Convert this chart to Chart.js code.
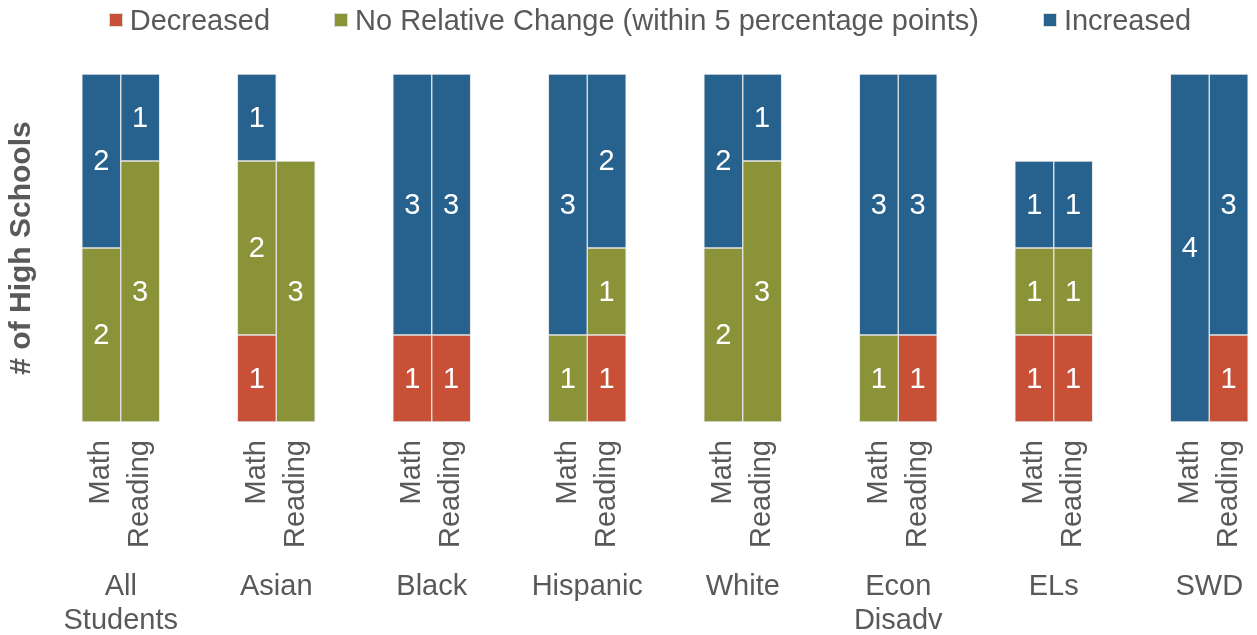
<!DOCTYPE html>
<html>
<head>
<meta charset="utf-8">
<script src="https://cdn.jsdelivr.net/npm/chart.js@4.4.1/dist/chart.umd.min.js"></script>
<style>
    html, body { margin: 0; padding: 0; background: #fff; overflow: hidden; }
    #wrap { position: relative; width: 1287px; height: 635px; }
    #chart { display: block; }
    #legend {
        position: absolute; top: 4px; left: 0; width: 1287px; padding-left: 13px; box-sizing: border-box;
        display: flex; justify-content: center; gap: 64px;
        font-family: "Liberation Sans", Arial, sans-serif; font-size: 29px; color: #595959;
    }
    .legend-item { display: flex; align-items: center; line-height: 32px; white-space: nowrap; }
    .legend-box { width: 12px; height: 12px; border: 1px solid #dcdcdc; margin-right: 7px; }
</style>
</head>
<body>
<div id="wrap">
    <div id="legend"></div>
    <canvas id="chart" width="1287" height="635"></canvas>
</div>
<script>
const groups = ['All Students', 'Asian', 'Black', 'Hispanic', 'White', 'Econ Disadv', 'ELs', 'SWD'];
const subjects = ['Math', 'Reading'];
const seriesNames = ['Decreased', 'No Relative Change (within 5 percentage points)', 'Increased'];
const seriesColors = ['#C75037', '#8A9338', '#27628F'];

// number of high schools per group, Math
const mathDecreased = [0, 1, 1, 0, 0, 0, 1, 0];
const mathNoChange  = [2, 2, 0, 1, 2, 1, 1, 0];
const mathIncreased = [2, 1, 3, 3, 2, 3, 1, 4];
// Reading
const readDecreased = [0, 0, 1, 1, 0, 1, 1, 1];
const readNoChange  = [3, 3, 0, 1, 3, 0, 1, 0];
const readIncreased = [1, 0, 3, 2, 1, 3, 1, 3];

const textColor = '#595959';
const fontFamily = '"Liberation Sans", Arial, sans-serif';

// each group takes 4 slots on the axis: gap, Math, Reading, gap
const slotLabels = [];
groups.forEach(() => slotLabels.push('', subjects[0], subjects[1], ''));

function toSlots(math, reading) {
    const out = [];
    for(let i = 0; i < groups.length; i++) {
        out.push(null, math[i] || null, reading[i] || null, null);
    }
    return out;
}

const slotData = [
    toSlots(mathDecreased, readDecreased),
    toSlots(mathNoChange, readNoChange),
    toSlots(mathIncreased, readIncreased)
];

// html legend
const legendNode = document.getElementById('legend');
seriesNames.forEach((name, i) => {
    const item = document.createElement('div');
    item.className = 'legend-item';
    item.innerHTML = `<span class="legend-box" style="background:${seriesColors[i]}"></span><span>${name}</span>`;
    legendNode.appendChild(item);
});

// write the value in the middle of every segment
const segmentLabels = {
    id: 'segmentLabels',
    afterDatasetsDraw(chart) {
        const ctx = chart.ctx;
        ctx.save();
        ctx.fillStyle = '#ffffff';
        ctx.font = '29px ' + fontFamily;
        ctx.textAlign = 'center';
        ctx.textBaseline = 'middle';
        chart.data.datasets.forEach((ds, di) => {
            const meta = chart.getDatasetMeta(di);
            meta.data.forEach((bar, i) => {
                const v = ds.data[i];
                if(!v) return;
                ctx.fillText(String(v), bar.x, (bar.y + bar.base) / 2 + 1);
            });
        });
        ctx.restore();
    }
};

// fixed axis heights, and no extra side padding from the rotated labels
function fixHeight(h) {
    return function(scale) {
        scale.height = h;
        scale.paddingLeft = 0;
        scale.paddingRight = 0;
    };
}

new Chart(document.getElementById('chart'), {
    type: 'bar',
    data: {
        labels: slotLabels,
        datasets: seriesNames.map((name, i) => ({
            label: name,
            data: slotData[i],
            backgroundColor: seriesColors[i],
            borderColor: '#e4e4e4',
            borderWidth: 1,
            borderSkipped: false,
            barPercentage: 1,
            categoryPercentage: 1
        }))
    },
    options: {
        responsive: false,
        animation: false,
        layout: { padding: { top: 74, right: 0, bottom: 0, left: 0 } },
        plugins: {
            legend: { display: false },
            tooltip: { enabled: false }
        },
        scales: {
            x: {
                stacked: true,
                weight: 0,
                grid: { display: false, drawTicks: false },
                border: { display: false },
                ticks: {
                    autoSkip: false,
                    minRotation: 90,
                    maxRotation: 90,
                    padding: 18,
                    color: textColor,
                    font: { family: fontFamily, size: 29 }
                },
                afterFit: fixHeight(126)
            },
            x2: {
                type: 'category',
                labels: groups.map(g => g.split(' ')),
                position: 'bottom',
                display: true,
                weight: 1,
                offset: true,
                grid: { display: false, drawTicks: false },
                border: { display: false },
                ticks: {
                    autoSkip: false,
                    maxRotation: 0,
                    padding: 22,
                    color: textColor,
                    font: { family: fontFamily, size: 29, lineHeight: 1.17 }
                },
                afterFit: fixHeight(87)
            },
            y: {
                stacked: true,
                min: 0,
                max: 4,
                grid: { display: false, drawTicks: false },
                border: { display: false },
                ticks: { display: false },
                title: {
                    display: true,
                    text: '# of High Schools',
                    color: textColor,
                    font: { family: fontFamily, size: 30, weight: 'bold' }
                },
                afterFit: function(scale) { scale.width = 43; }
            }
        }
    },
    plugins: [segmentLabels]
});
</script>
</body>
</html>
